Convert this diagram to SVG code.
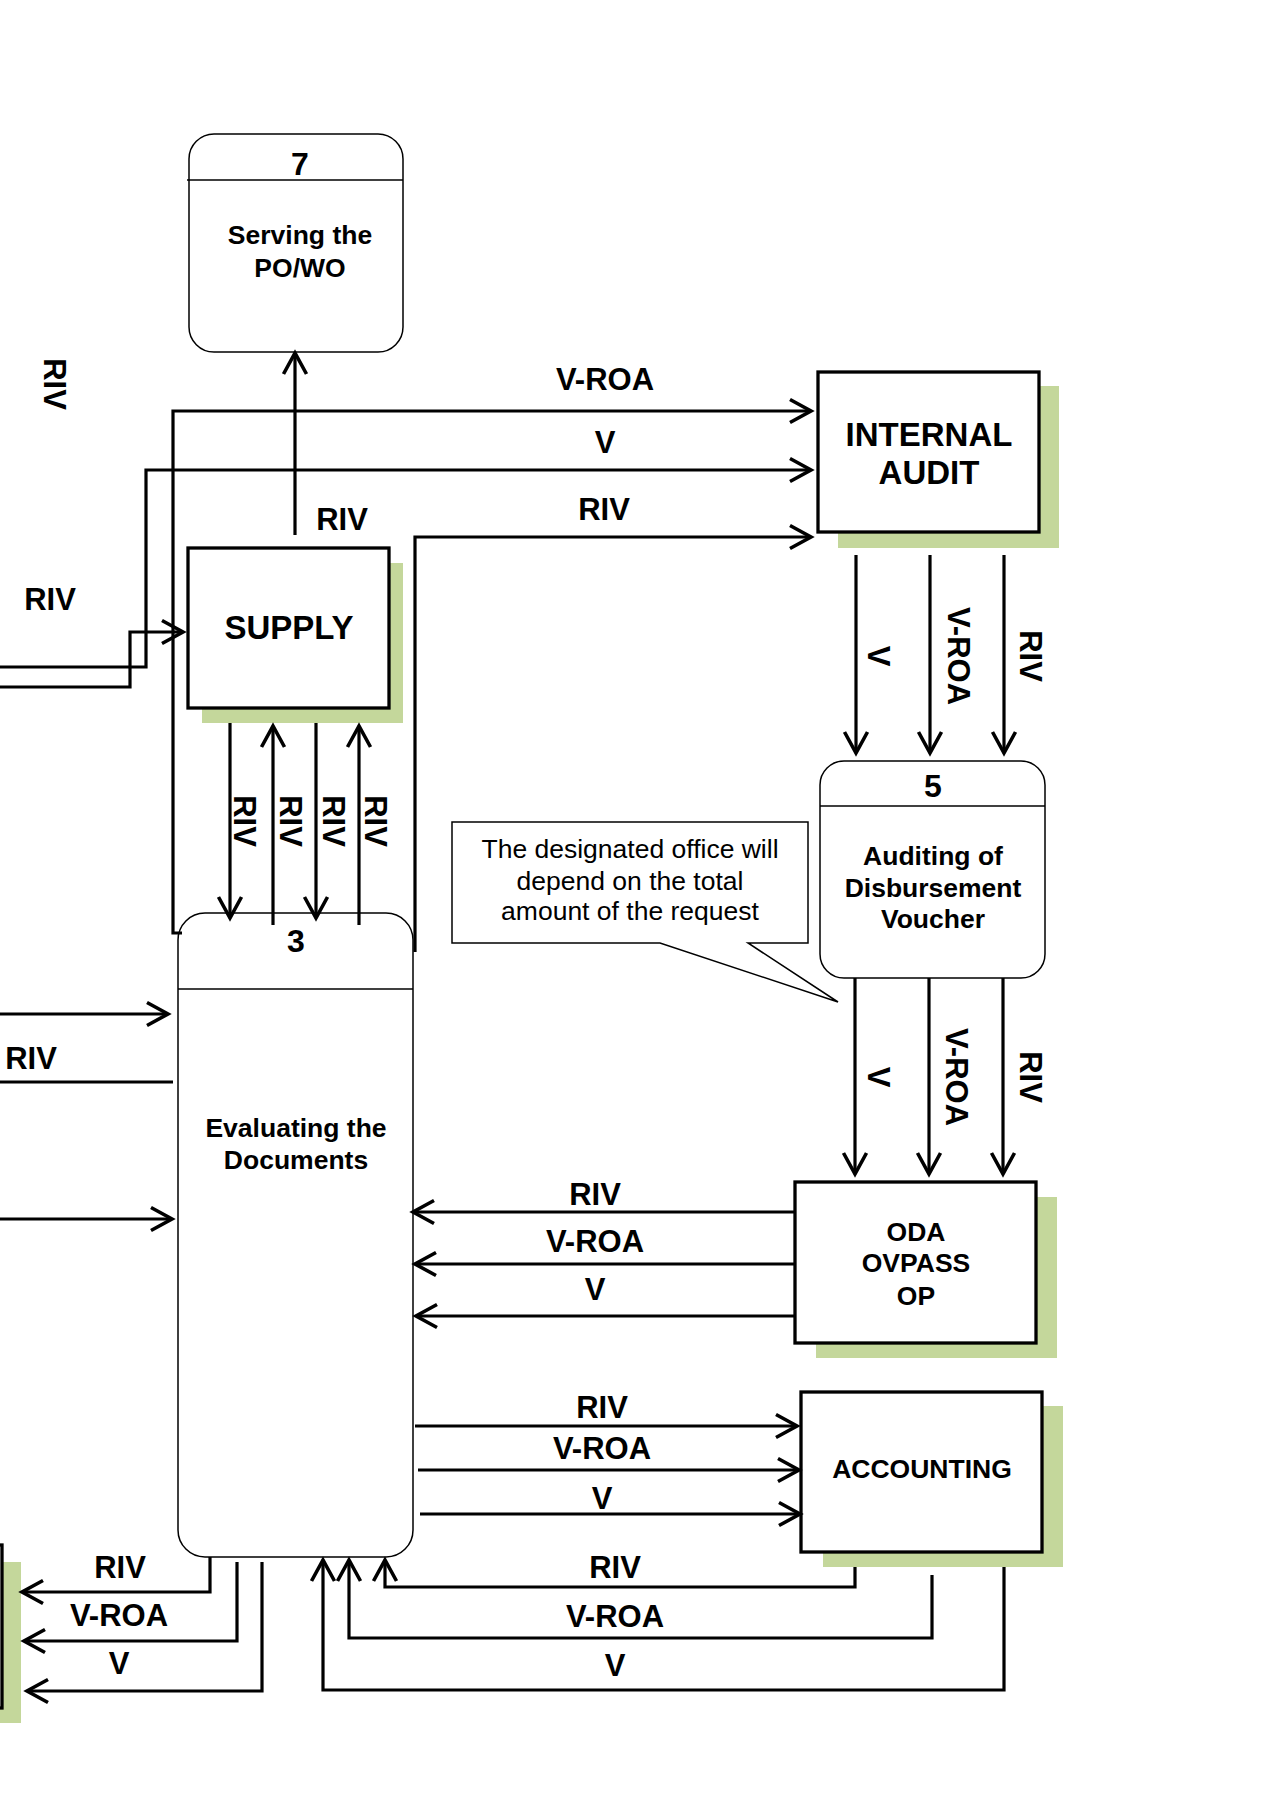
<svg xmlns="http://www.w3.org/2000/svg" width="1272" height="1800" viewBox="0 0 1272 1800">
<style>
.lbl{font-family:"Liberation Sans",Arial,sans-serif;font-weight:bold;font-size:31px;fill:#000;text-anchor:middle}
.big{font-family:"Liberation Sans",Arial,sans-serif;font-weight:bold;font-size:33px;fill:#000;text-anchor:middle}
.mid{font-family:"Liberation Sans",Arial,sans-serif;font-weight:bold;font-size:26.5px;fill:#000;text-anchor:middle}
.num{font-family:"Liberation Sans",Arial,sans-serif;font-weight:bold;font-size:32px;fill:#000;text-anchor:middle}
.note{font-family:"Liberation Sans",Arial,sans-serif;font-size:26.5px;fill:#000;text-anchor:middle}
.shadow{fill:#c4d79b}
.ent{fill:#fff;stroke:#000;stroke-width:3.3}
.proc{fill:#fff;stroke:#000;stroke-width:1.5}
.div{stroke:#000;stroke-width:1.5}
.c{fill:none;stroke:#000;stroke-width:3.2}
.ca{fill:none;stroke:#000;stroke-width:3.2;marker-end:url(#ah)}
</style>
<defs>
<marker id="ah" markerUnits="userSpaceOnUse" markerWidth="30" markerHeight="30" viewBox="-25 -15 30 30" refX="0" refY="0" orient="auto" overflow="visible">
<path d="M-21,-11.5 L0,0 L-21,11.5" fill="none" stroke="#000" stroke-width="3.6"/>
</marker>
</defs>
<rect width="1272" height="1800" fill="#fff"/>

<g id="node-7">
<rect class="proc" x="189" y="134" width="214" height="218" rx="25"/>
<line class="div" x1="187" y1="180" x2="403" y2="180"/>
<text class="num" x="300" y="175">7</text>
<text class="mid" x="300" y="244">Serving the</text>
<text class="mid" x="300" y="277">PO/WO</text>
</g>

<g id="internal-audit">
<rect class="shadow" x="838" y="386" width="221" height="162"/>
<rect class="ent" x="818" y="372" width="221" height="160"/>
<text class="big" x="929" y="446">INTERNAL</text>
<text class="big" x="929" y="484">AUDIT</text>
</g>

<g id="supply">
<rect class="shadow" x="202" y="563" width="201" height="160"/>
<rect class="ent" x="188" y="548" width="201" height="160"/>
<text class="big" x="289" y="639">SUPPLY</text>
</g>

<g id="node-5">
<rect class="proc" x="820" y="761" width="225" height="217" rx="24"/>
<line class="div" x1="820" y1="806" x2="1045" y2="806"/>
<text class="num" x="933" y="797">5</text>
<text class="mid" x="933" y="865">Auditing of</text>
<text class="mid" x="933" y="897">Disbursement</text>
<text class="mid" x="933" y="928">Voucher</text>
</g>

<g id="callout">
<path d="M452,822 H808 V943 H748 L838,1002 L660,943 H452 Z" fill="#fff" stroke="#000" stroke-width="1.5"/>
<text class="note" x="630" y="858">The designated office will</text>
<text class="note" x="630" y="890">depend on the total</text>
<text class="note" x="630" y="920">amount of the request</text>
</g>

<g id="node-3">
<rect class="proc" x="178" y="913" width="235" height="644" rx="27"/>
<line class="div" x1="178" y1="989" x2="413" y2="989"/>
<text class="num" x="296" y="952">3</text>
<text class="mid" x="296" y="1137">Evaluating the</text>
<text class="mid" x="296" y="1169">Documents</text>
</g>

<g id="oda">
<rect class="shadow" x="816" y="1197" width="241" height="161"/>
<rect class="ent" x="795" y="1182" width="241" height="161"/>
<text class="mid" x="916" y="1241">ODA</text>
<text class="mid" x="916" y="1272">OVPASS</text>
<text class="mid" x="916" y="1305">OP</text>
</g>

<g id="accounting">
<rect class="shadow" x="823" y="1406" width="240" height="161"/>
<rect class="ent" x="801" y="1392" width="241" height="160"/>
<text class="mid" x="922" y="1478">ACCOUNTING</text>
</g>

<g id="left-entity">
<rect class="shadow" x="-40" y="1562" width="61" height="161"/>
<rect class="ent" x="-60" y="1545" width="62" height="163"/>
</g>

<g id="connectors">
<path class="ca" d="M295,535 V353"/>
<path class="ca" d="M182,933 H173 V411 H811"/>
<path class="ca" d="M0,667 H146 V470 H811"/>
<path class="ca" d="M415,952 V537 H811"/>
<path class="ca" d="M0,687 H130 V632 H183"/>
<path class="ca" d="M230,723 V918"/>
<path class="ca" d="M273,925 V726"/>
<path class="ca" d="M316,723 V918"/>
<path class="ca" d="M359,925 V726"/>
<path class="ca" d="M856,555 V753"/>
<path class="ca" d="M930,555 V753"/>
<path class="ca" d="M1004,555 V753"/>
<path class="ca" d="M855,978 V1174"/>
<path class="ca" d="M929,978 V1174"/>
<path class="ca" d="M1003,978 V1174"/>
<path class="ca" d="M0,1014 H168"/>
<path class="c" d="M0,1082 H173"/>
<path class="ca" d="M0,1219 H172"/>
<path class="ca" d="M795,1212 H413"/>
<path class="ca" d="M795,1264 H415"/>
<path class="ca" d="M795,1316 H416"/>
<path class="ca" d="M415,1426 H797"/>
<path class="ca" d="M418,1470 H799"/>
<path class="ca" d="M420,1514 H800"/>
<path class="ca" d="M855,1567 V1587 H385 V1560"/>
<path class="ca" d="M932,1575 V1638 H349 V1560"/>
<path class="ca" d="M1004,1567 V1690 H323 V1560"/>
<path class="ca" d="M210,1557 V1592 H22"/>
<path class="ca" d="M237,1562 V1641 H24"/>
<path class="ca" d="M262,1562 V1691 H27"/>

<text class="lbl" transform="translate(44,384) rotate(90)">RIV</text>
<text class="lbl" x="605" y="390">V-ROA</text>
<text class="lbl" x="605" y="453">V</text>
<text class="lbl" x="604" y="520">RIV</text>
<text class="lbl" x="342" y="530">RIV</text>
<text class="lbl" x="50" y="610">RIV</text>
<text class="lbl" transform="translate(234,821) rotate(90)">RIV</text>
<text class="lbl" transform="translate(280,821) rotate(90)">RIV</text>
<text class="lbl" transform="translate(323,821) rotate(90)">RIV</text>
<text class="lbl" transform="translate(365,821) rotate(90)">RIV</text>
<text class="lbl" transform="translate(868,656) rotate(90)">V</text>
<text class="lbl" transform="translate(948,656) rotate(90)">V-ROA</text>
<text class="lbl" transform="translate(1020,656) rotate(90)">RIV</text>
<text class="lbl" transform="translate(868,1077) rotate(90)">V</text>
<text class="lbl" transform="translate(946,1077) rotate(90)">V-ROA</text>
<text class="lbl" transform="translate(1020,1077) rotate(90)">RIV</text>
<text class="lbl" x="31" y="1069">RIV</text>
<text class="lbl" x="595" y="1205">RIV</text>
<text class="lbl" x="595" y="1252">V-ROA</text>
<text class="lbl" x="595" y="1300">V</text>
<text class="lbl" x="602" y="1418">RIV</text>
<text class="lbl" x="602" y="1459">V-ROA</text>
<text class="lbl" x="602" y="1509">V</text>
<text class="lbl" x="615" y="1578">RIV</text>
<text class="lbl" x="615" y="1627">V-ROA</text>
<text class="lbl" x="615" y="1676">V</text>
<text class="lbl" x="120" y="1578">RIV</text>
<text class="lbl" x="119" y="1626">V-ROA</text>
<text class="lbl" x="119" y="1674">V</text>
</g>
</svg>
